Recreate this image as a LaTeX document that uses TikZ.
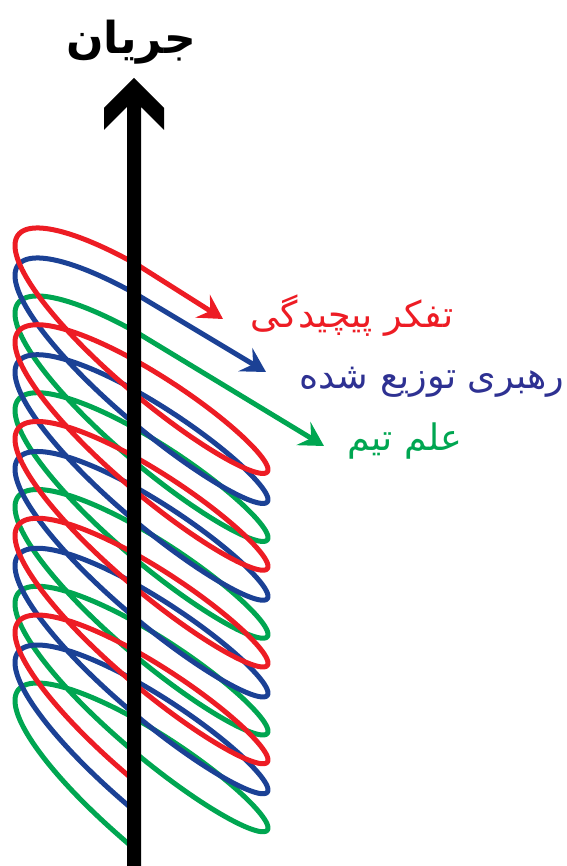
\documentclass[tikz,border=0pt]{standalone}
\usepackage{fontspec}
\newfontfamily\arabicfont[Script=Arabic]{DejaVu Sans}
\TeXXeTstate=1
\usetikzlibrary{arrows.meta}
\definecolor{cred}{HTML}{ED1C24}
\definecolor{cblue}{HTML}{1B4195}
\definecolor{lblue}{HTML}{2E3192}
\definecolor{cgreen}{HTML}{00A651}
\begin{document}
\begin{tikzpicture}[x=1pt,y=-1pt,
  coil/.style={line width=5pt, line join=round},
  coilarrow/.style={line width=5pt, -{Stealth[length=24pt,width=27pt,inset=9pt]}},
  lbl/.style={font=\arabicfont\fontsize{36.5}{40}\selectfont, inner sep=0pt},
  ttl/.style={font=\arabicfont\bfseries\fontsize{44}{50}\selectfont, inner sep=0pt}
]
\useasboundingbox (0,0) rectangle (566,866);
% coil start points and arrow tips
\coordinate (gs) at (137.8,333.1);
\coordinate (gt) at (324,446);
\coordinate (bs) at (137.8,295.1);
\coordinate (bt) at (266,372);
\coordinate (rs) at (137.8,265.1);
\coordinate (rt) at (223,319);
% green coil
\draw[coil,cgreen] plot[variable=\t, domain=1.6:29.78, samples=900]
  ({141.5+126.5*cos(\t r)}, {353 + 15.4*\t - 42*sin(\t r) + 87.8*cos(\t r)});
\draw[coilarrow,cgreen] (gs) -- (gt);
% blue coil
\draw[coil,cblue] plot[variable=\t, domain=1.6:29.78, samples=900]
  ({141.5+126.5*cos(\t r)}, {315 + 15.4*\t - 42*sin(\t r) + 87.8*cos(\t r)});
\draw[coilarrow,cblue] (bs) -- (bt);
% red coil
\draw[coil,cred] plot[variable=\t, domain=1.6:29.78, samples=900]
  ({141.5+126.5*cos(\t r)}, {285 + 15.4*\t - 42*sin(\t r) + 87.8*cos(\t r)});
\draw[coilarrow,cred] (rs) -- (rt);
% flow arrow
\fill[black] (127,866) -- (127,107) -- (104,130) -- (104,108) -- (134,78)
  -- (164,108) -- (164,130) -- (141,107) -- (141,866) -- cycle;
% labels
\node[ttl] (title) at (131,42) {\beginR جریان\endR};
\node[lbl,text=cred] (labR) at (352,316) {\beginR تفکر پیچیدگی\endR};
\node[lbl,text=lblue] (labB) at (432,382) {\beginR رهبری توزیع شده\endR};
\node[lbl,text=cgreen] (labG) at (405,441) {\beginR علم تیم\endR};
\end{tikzpicture}
\end{document}
